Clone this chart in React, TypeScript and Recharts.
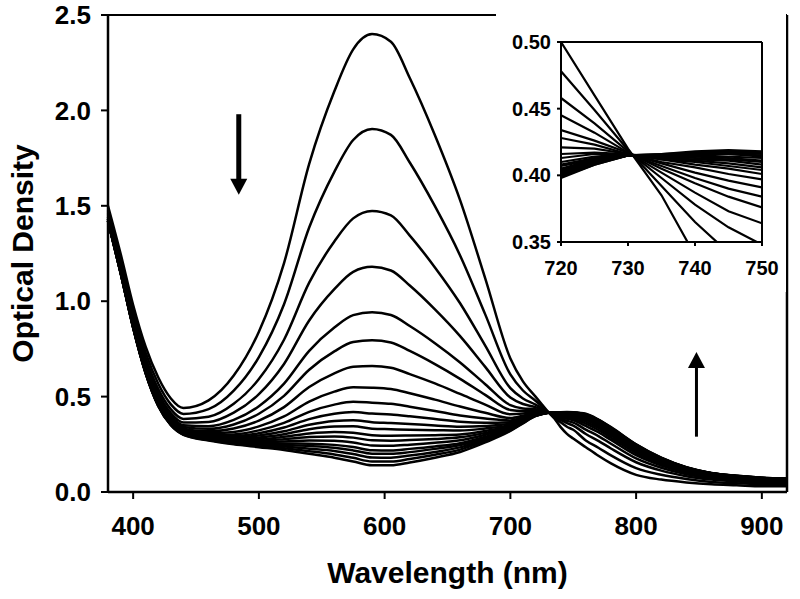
import {
  LineChart,
  Line,
  XAxis,
  YAxis,
  Label,
  ReferenceLine,
  ReferenceDot,
} from "recharts";

// wavelengths (nm) shared by every scan
const wavelengths = [
  380, 390, 400, 410, 420, 430, 440, 460, 480, 500, 520, 540, 560, 575, 590,
  605, 620, 640, 660, 680, 700, 710, 720, 725, 730, 735, 740, 745, 750, 760,
  770, 780, 800, 820, 840, 860, 880, 900, 920,
];

// optical density of each scan, first (top peak) to last
const scan01 = [1.50, 1.25, 0.98, 0.76, 0.60, 0.49, 0.44, 0.48, 0.61, 0.84, 1.20, 1.72, 2.10, 2.32, 2.40, 2.36, 2.17, 1.87, 1.53, 1.12, 0.70, 0.58, 0.500, 0.460, 0.420, 0.385, 0.340, 0.305, 0.280, 0.235, 0.190, 0.150, 0.090, 0.065, 0.050, 0.040, 0.035, 0.030, 0.030];
const scan02 = [1.48, 1.23, 0.954, 0.729, 0.567, 0.459, 0.409, 0.434, 0.531, 0.707, 0.984, 1.386, 1.678, 1.845, 1.903, 1.872, 1.727, 1.498, 1.240, 0.931, 0.616, 0.532, 0.478, 0.449, 0.419, 0.392, 0.365, 0.342, 0.326, 0.270, 0.232, 0.192, 0.125, 0.090, 0.068, 0.053, 0.046, 0.040, 0.039];
const scan03 = [1.47, 1.21, 0.931, 0.703, 0.539, 0.433, 0.383, 0.394, 0.462, 0.592, 0.798, 1.097, 1.313, 1.434, 1.473, 1.450, 1.344, 1.177, 0.989, 0.767, 0.544, 0.490, 0.458, 0.439, 0.418, 0.398, 0.378, 0.361, 0.348, 0.304, 0.268, 0.228, 0.156, 0.112, 0.083, 0.065, 0.055, 0.048, 0.046];
const scan04 = [1.46, 1.20, 0.915, 0.684, 0.519, 0.414, 0.364, 0.367, 0.416, 0.513, 0.671, 0.899, 1.063, 1.154, 1.180, 1.161, 1.082, 0.957, 0.817, 0.656, 0.495, 0.461, 0.445, 0.432, 0.417, 0.402, 0.387, 0.373, 0.364, 0.327, 0.293, 0.253, 0.176, 0.127, 0.093, 0.072, 0.062, 0.054, 0.052];
const scan05 = [1.45, 1.19, 0.903, 0.670, 0.503, 0.400, 0.350, 0.345, 0.378, 0.450, 0.568, 0.740, 0.862, 0.927, 0.942, 0.928, 0.870, 0.780, 0.679, 0.565, 0.455, 0.438, 0.434, 0.426, 0.417, 0.405, 0.394, 0.384, 0.376, 0.346, 0.313, 0.273, 0.193, 0.139, 0.102, 0.079, 0.067, 0.059, 0.056];
const scan06 = [1.44, 1.18, 0.895, 0.661, 0.494, 0.391, 0.341, 0.331, 0.354, 0.410, 0.504, 0.641, 0.737, 0.786, 0.795, 0.784, 0.739, 0.670, 0.593, 0.509, 0.430, 0.424, 0.428, 0.423, 0.416, 0.407, 0.398, 0.390, 0.384, 0.358, 0.325, 0.285, 0.204, 0.147, 0.107, 0.083, 0.070, 0.062, 0.058];
const scan07 = [1.44, 1.17, 0.888, 0.652, 0.485, 0.382, 0.332, 0.318, 0.333, 0.374, 0.445, 0.550, 0.622, 0.657, 0.660, 0.651, 0.618, 0.569, 0.514, 0.458, 0.407, 0.411, 0.421, 0.420, 0.416, 0.409, 0.402, 0.396, 0.391, 0.369, 0.336, 0.296, 0.213, 0.154, 0.112, 0.086, 0.073, 0.065, 0.061];
const scan08 = [1.43, 1.17, 0.882, 0.645, 0.477, 0.375, 0.325, 0.308, 0.315, 0.344, 0.396, 0.474, 0.526, 0.549, 0.547, 0.540, 0.518, 0.484, 0.448, 0.415, 0.388, 0.400, 0.416, 0.417, 0.416, 0.410, 0.406, 0.401, 0.397, 0.378, 0.346, 0.306, 0.221, 0.159, 0.116, 0.089, 0.076, 0.067, 0.063];
const scan09 = [1.43, 1.17, 0.877, 0.640, 0.472, 0.370, 0.320, 0.300, 0.302, 0.323, 0.362, 0.420, 0.458, 0.473, 0.468, 0.462, 0.447, 0.425, 0.401, 0.385, 0.375, 0.392, 0.413, 0.416, 0.416, 0.412, 0.408, 0.405, 0.401, 0.384, 0.352, 0.312, 0.227, 0.163, 0.118, 0.091, 0.078, 0.068, 0.064];
const scan10 = [1.43, 1.16, 0.874, 0.637, 0.468, 0.367, 0.317, 0.295, 0.293, 0.308, 0.338, 0.382, 0.410, 0.419, 0.411, 0.406, 0.397, 0.383, 0.368, 0.363, 0.366, 0.386, 0.410, 0.414, 0.416, 0.412, 0.410, 0.407, 0.404, 0.388, 0.357, 0.317, 0.231, 0.166, 0.120, 0.093, 0.079, 0.070, 0.065];
const scan11 = [1.43, 1.16, 0.872, 0.634, 0.465, 0.364, 0.314, 0.291, 0.286, 0.296, 0.318, 0.352, 0.372, 0.376, 0.366, 0.362, 0.357, 0.349, 0.342, 0.346, 0.358, 0.382, 0.408, 0.413, 0.416, 0.413, 0.411, 0.409, 0.406, 0.392, 0.361, 0.321, 0.234, 0.168, 0.122, 0.094, 0.080, 0.070, 0.066];
const scan12 = [1.43, 1.16, 0.870, 0.632, 0.463, 0.362, 0.312, 0.288, 0.281, 0.286, 0.303, 0.329, 0.343, 0.344, 0.332, 0.329, 0.326, 0.324, 0.322, 0.333, 0.352, 0.379, 0.407, 0.412, 0.415, 0.413, 0.412, 0.411, 0.408, 0.395, 0.364, 0.324, 0.236, 0.170, 0.123, 0.095, 0.081, 0.071, 0.067];
const scan13 = [1.43, 1.16, 0.868, 0.630, 0.461, 0.360, 0.310, 0.285, 0.275, 0.277, 0.289, 0.306, 0.314, 0.311, 0.298, 0.295, 0.296, 0.298, 0.302, 0.320, 0.347, 0.375, 0.405, 0.412, 0.415, 0.414, 0.413, 0.412, 0.410, 0.397, 0.367, 0.327, 0.239, 0.172, 0.124, 0.096, 0.081, 0.072, 0.067];
const scan14 = [1.42, 1.16, 0.867, 0.628, 0.459, 0.358, 0.308, 0.282, 0.271, 0.270, 0.277, 0.288, 0.291, 0.285, 0.271, 0.269, 0.272, 0.278, 0.287, 0.310, 0.342, 0.373, 0.404, 0.411, 0.415, 0.414, 0.414, 0.413, 0.411, 0.400, 0.369, 0.329, 0.241, 0.173, 0.125, 0.097, 0.082, 0.072, 0.068];
const scan15 = [1.42, 1.15, 0.866, 0.626, 0.457, 0.356, 0.306, 0.280, 0.267, 0.263, 0.265, 0.270, 0.268, 0.259, 0.244, 0.242, 0.248, 0.258, 0.271, 0.300, 0.337, 0.370, 0.403, 0.410, 0.415, 0.415, 0.415, 0.414, 0.413, 0.402, 0.371, 0.331, 0.243, 0.175, 0.126, 0.097, 0.083, 0.073, 0.068];
const scan16 = [1.42, 1.15, 0.864, 0.625, 0.455, 0.355, 0.305, 0.277, 0.263, 0.256, 0.254, 0.253, 0.247, 0.236, 0.219, 0.218, 0.226, 0.239, 0.256, 0.290, 0.333, 0.368, 0.402, 0.410, 0.415, 0.415, 0.416, 0.416, 0.414, 0.404, 0.373, 0.333, 0.244, 0.176, 0.127, 0.098, 0.083, 0.073, 0.069];
const scan17 = [1.42, 1.15, 0.863, 0.624, 0.454, 0.354, 0.304, 0.276, 0.260, 0.251, 0.246, 0.241, 0.232, 0.218, 0.201, 0.200, 0.209, 0.226, 0.246, 0.283, 0.330, 0.366, 0.401, 0.409, 0.415, 0.415, 0.416, 0.416, 0.415, 0.405, 0.375, 0.335, 0.246, 0.177, 0.128, 0.098, 0.084, 0.074, 0.069];
const scan18 = [1.42, 1.15, 0.862, 0.623, 0.453, 0.353, 0.303, 0.274, 0.256, 0.246, 0.238, 0.227, 0.215, 0.199, 0.181, 0.180, 0.191, 0.210, 0.234, 0.275, 0.327, 0.364, 0.400, 0.409, 0.415, 0.415, 0.417, 0.417, 0.416, 0.407, 0.377, 0.337, 0.247, 0.178, 0.129, 0.099, 0.084, 0.074, 0.069];
const scan19 = [1.42, 1.15, 0.861, 0.621, 0.451, 0.351, 0.301, 0.272, 0.253, 0.240, 0.229, 0.214, 0.197, 0.179, 0.160, 0.160, 0.173, 0.195, 0.222, 0.268, 0.323, 0.362, 0.399, 0.408, 0.415, 0.416, 0.417, 0.418, 0.417, 0.408, 0.378, 0.338, 0.249, 0.179, 0.129, 0.099, 0.085, 0.075, 0.070];
const scan20 = [1.42, 1.15, 0.86, 0.62, 0.45, 0.35, 0.30, 0.27, 0.25, 0.235, 0.22, 0.20, 0.18, 0.16, 0.14, 0.14, 0.155, 0.18, 0.21, 0.26, 0.32, 0.36, 0.398, 0.408, 0.415, 0.416, 0.418, 0.419, 0.418, 0.41, 0.38, 0.34, 0.25, 0.18, 0.13, 0.10, 0.085, 0.075, 0.070];

const scans = [
  scan01, scan02, scan03, scan04, scan05, scan06, scan07, scan08, scan09, scan10,
  scan11, scan12, scan13, scan14, scan15, scan16, scan17, scan18, scan19, scan20,
];

const xTicks = [400, 500, 600, 700, 800, 900];
const yTicks = [0, 0.5, 1.0, 1.5, 2.0, 2.5];
const insetXTicks = [720, 730, 740, 750];
const insetYTicks = [0.35, 0.4, 0.45, 0.5];

const rows = wavelengths.map((wl, i) => {
  const row: Record<string, number> = { wl };
  scans.forEach((s, k) => {
    row["s" + k] = s[i];
  });
  return row;
});
const insetRows = rows.filter((r) => r.wl >= 720 && r.wl <= 750);

const font = "'Liberation Sans', Arial, Helvetica, sans-serif";
const tickStyle = { fill: "#000", fontSize: 26, fontWeight: 700, fontFamily: font };
const insetTick = { fill: "#000", fontSize: 20, fontWeight: 700, fontFamily: font };

const downHead = (p: any) => (
  <polygon
    points={`${p.cx - 8.5},${p.cy - 8} ${p.cx + 8.5},${p.cy - 8} ${p.cx},${p.cy + 8}`}
    fill="#000"
  />
);
const upHead = (p: any) => (
  <polygon
    points={`${p.cx - 8.5},${p.cy + 8} ${p.cx + 8.5},${p.cy + 8} ${p.cx},${p.cy - 8}`}
    fill="#000"
  />
);

export default function App() {
  return (
    <div style={{ position: "absolute", left: 0, top: 0, width: 800, height: 599, background: "#fff" }}>
      {/* main spectra */}
      <LineChart
        width={800}
        height={599}
        data={rows}
        margin={{ top: 15, right: 13, bottom: 0, left: 0 }}
      >
        <XAxis
          dataKey="wl"
          type="number"
          domain={[380, 920]}
          ticks={xTicks}
          height={107}
          tick={tickStyle}
          tickSize={7}
          tickMargin={18}
          axisLine={{ stroke: "#000", strokeWidth: 2.5 }}
          tickLine={{ stroke: "#000", strokeWidth: 2 }}
        >
          <Label
            value="Wavelength (nm)"
            position="insideBottom"
            offset={16}
            fill="#000"
            style={{ fontSize: 30, fontWeight: 700, fontFamily: font, fill: "#000" }}
          />
        </XAxis>
        <YAxis
          type="number"
          domain={[0, 2.5]}
          ticks={yTicks}
          width={108}
          tick={tickStyle}
          tickSize={7}
          tickMargin={10}
          tickFormatter={(v: number) => v.toFixed(1)}
          axisLine={{ stroke: "#000", strokeWidth: 2.5 }}
          tickLine={{ stroke: "#000", strokeWidth: 2 }}
        >
          <Label
            value="Optical Density"
            angle={-90}
            position="insideLeft"
            offset={22}
            fill="#000"
            style={{ fontSize: 30, fontWeight: 700, fontFamily: font, fill: "#000", textAnchor: "middle" }}
          />
        </YAxis>
        <ReferenceLine y={2.5} stroke="#000" strokeWidth={2} />
        <ReferenceLine x={920} stroke="#000" strokeWidth={2.5} />
        {scans.map((_, k) => (
          <Line
            key={k}
            dataKey={"s" + k}
            type="monotone"
            stroke="#000"
            strokeWidth={2.5}
            dot={false}
            isAnimationActive={false}
          />
        ))}
        {/* arrows */}
        <ReferenceLine segment={[{ x: 484, y: 1.98 }, { x: 484, y: 1.62 }]} stroke="#000" strokeWidth={5} />
        <ReferenceDot x={484} y={1.6} shape={downHead} />
        <ReferenceLine segment={[{ x: 848, y: 0.29 }, { x: 848, y: 0.68 }]} stroke="#000" strokeWidth={3} />
        <ReferenceDot x={848} y={0.692} shape={upHead} />
      </LineChart>

      {/* inset around the isosbestic point */}
      <div style={{ position: "absolute", left: 496, top: 0, width: 290, height: 292, background: "#fff" }}>
        <LineChart
          width={290}
          height={292}
          data={insetRows}
          margin={{ top: 42, right: 24, bottom: 0, left: 0 }}
        >
          <XAxis
            dataKey="wl"
            type="number"
            domain={[720, 750]}
            allowDataOverflow
            ticks={insetXTicks}
            height={50}
            tick={insetTick}
            tickSize={4}
            tickMargin={15}
            axisLine={{ stroke: "#000", strokeWidth: 2 }}
            tickLine={{ stroke: "#000", strokeWidth: 2 }}
          />
          <YAxis
            type="number"
            domain={[0.35, 0.5]}
            allowDataOverflow
            ticks={insetYTicks}
            width={65}
            tick={insetTick}
            tickSize={4}
            tickMargin={6}
            tickFormatter={(v: number) => v.toFixed(2)}
            axisLine={{ stroke: "#000", strokeWidth: 2 }}
            tickLine={{ stroke: "#000", strokeWidth: 2 }}
          />
          <ReferenceLine y={0.5} stroke="#000" strokeWidth={2} />
          <ReferenceLine x={750} stroke="#000" strokeWidth={2} />
          {scans.map((_, k) => (
            <Line
              key={k}
              dataKey={"s" + k}
              type="linear"
              stroke="#000"
              strokeWidth={2.2}
              dot={false}
              isAnimationActive={false}
            />
          ))}
        </LineChart>
      </div>
    </div>
  );
}
